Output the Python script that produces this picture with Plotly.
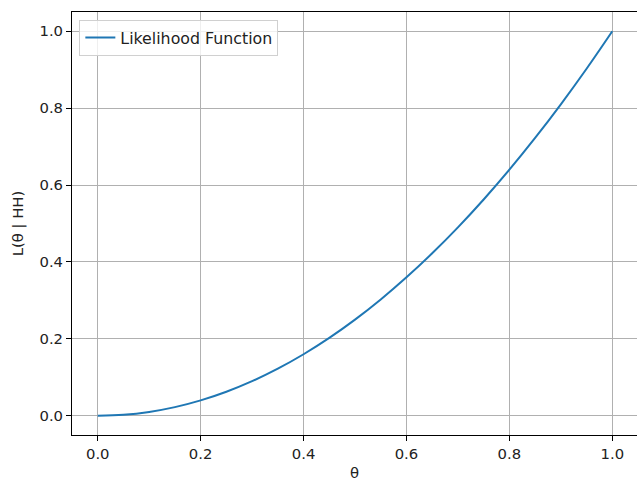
import plotly.graph_objects as go

theta = [0.0, 0.05, 0.1, 0.15, 0.2, 0.25, 0.3, 0.35, 0.4, 0.45, 0.5,
         0.55, 0.6, 0.65, 0.7, 0.75, 0.8, 0.85, 0.9, 0.95, 1.0]
likelihood = [0.0, 0.0025, 0.01, 0.0225, 0.04, 0.0625, 0.09, 0.1225, 0.16, 0.2025, 0.25,
              0.3025, 0.36, 0.4225, 0.49, 0.5625, 0.64, 0.7225, 0.81, 0.9025, 1.0]
tick_vals = [0.0, 0.2, 0.4, 0.6, 0.8, 1.0]
tick_text = ["0.0", "0.2", "0.4", "0.6", "0.8", "1.0"]

fig = go.Figure()
fig.add_trace(go.Scatter(x=theta, y=likelihood, mode="lines", line_shape="spline",
                         name="Likelihood Function",
                         line=dict(color="#1f77b4", width=2)))

axis_common = dict(showline=True, linecolor="black", linewidth=1, mirror=True,
                   ticks="outside", ticklen=5, tickcolor="black", automargin=False,
                   showgrid=True, gridcolor="#b0b0b0", gridwidth=1, zeroline=False,
                   tickfont=dict(size=14.8, color="#222"))

fig.update_layout(
    width=637, height=481,
    margin=dict(l=71.5, r=0, t=11.5, b=45.5, pad=0),
    paper_bgcolor="white", plot_bgcolor="white",
    font=dict(family="DejaVu Sans", size=14.8, color="#222"),
    showlegend=True,
    legend=dict(x=0.013, y=0.982, xanchor="left", yanchor="top",
                bgcolor="rgba(255,255,255,0.8)", bordercolor="#d0d0d0", borderwidth=1,
                font=dict(size=15.8)),
    xaxis=dict(range=[-0.05, 1.048], tickvals=tick_vals, ticktext=tick_text,
               title=dict(text="θ", standoff=8, font=dict(size=14.8)), **axis_common),
    yaxis=dict(range=[-0.05, 1.05], tickvals=tick_vals, ticktext=tick_text,
               title=dict(text="L(θ | HH)", standoff=12, font=dict(size=14.8)), **axis_common),
)

fig.write_html("out.html", config={"displayModeBar": False},
               post_script="document.body.style.margin='0';document.body.style.overflow='hidden';")
